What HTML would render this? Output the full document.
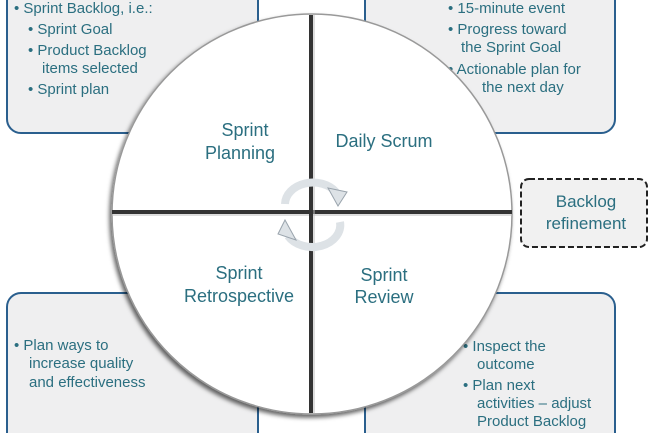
<!DOCTYPE html>
<html><head><style>
html,body{margin:0;padding:0;background:#fff;width:650px;height:433px;overflow:hidden}
svg{display:block}
text{font-family:"Liberation Sans",sans-serif;fill:#2b6f80}
</style></head><body>
<svg width="650" height="433" viewBox="0 0 650 433">
<defs>
<filter id="sh" x="-10%" y="-10%" width="120%" height="120%"><feDropShadow dx="-2" dy="3" stdDeviation="2" flood-color="#000" flood-opacity="0.6"/></filter>
</defs>
<g fill="#efeff0" stroke="#2a5f8e" stroke-width="2">
<rect x="7" y="-20" width="251" height="153" rx="14"/>
<rect x="365" y="-20" width="250" height="153" rx="14"/>
<rect x="7" y="293" width="251" height="160" rx="14"/>
<rect x="365" y="293" width="250" height="160" rx="14"/>
</g>
<g font-size="15">
<text x="14" y="13">• Sprint Backlog, i.e.:</text>
<text x="28" y="34">• Sprint Goal</text>
<text x="28" y="55">• Product Backlog</text>
<text x="42" y="73">items selected</text>
<text x="28" y="94">• Sprint plan</text>
<text x="448" y="13">• 15-minute event</text>
<text x="448" y="34">• Progress toward</text>
<text x="461" y="52">the Sprint Goal</text>
<text x="448" y="74">• Actionable plan for</text>
<text x="482" y="92">the next day</text>
<text x="14" y="350">• Plan ways to</text>
<text x="29" y="368">increase quality</text>
<text x="29" y="387">and effectiveness</text>
<text x="463" y="351">• Inspect the</text>
<text x="477" y="369">outcome</text>
<text x="463" y="390">• Plan next</text>
<text x="477" y="408">activities – adjust</text>
<text x="477" y="426">Product Backlog</text>
</g>
<circle cx="312" cy="214" r="200" fill="#fff" stroke="#999" stroke-width="1.5" filter="url(#sh)"/>
<line x1="112" y1="212" x2="512" y2="212" stroke="#333" stroke-width="4"/>
<line x1="112" y1="215" x2="512" y2="215" stroke="#bbb" stroke-width="1"/>
<line x1="311" y1="15" x2="311" y2="413" stroke="#333" stroke-width="4"/>
<line x1="314" y1="15" x2="314" y2="413" stroke="#bbb" stroke-width="1"/>
<g fill="none" stroke="#dde2e6" stroke-width="8">
<path d="M285 204 A28 22 0 0 1 336 192"/>
<path d="M340 222 A28 22 0 0 1 288 236"/>
</g>
<polygon points="328,188 347,192 338,206" fill="#dde2e6" stroke="#9aa4ad" stroke-width="1"/>
<polygon points="296,240 278,234 285,220" fill="#dde2e6" stroke="#9aa4ad" stroke-width="1"/>
<g font-size="18" text-anchor="middle">
<text x="245" y="136">Sprint</text>
<text x="240" y="159">Planning</text>
<text x="384" y="147">Daily Scrum</text>
<text x="239" y="279">Sprint</text>
<text x="239" y="302">Retrospective</text>
<text x="384" y="281">Sprint</text>
<text x="384" y="303">Review</text>
</g>
<rect x="521" y="179" width="126" height="68" rx="8" fill="#f1f1f1" stroke="#222" stroke-width="2" stroke-dasharray="6,3"/>
<g font-size="17" text-anchor="middle">
<text x="586" y="207">Backlog</text>
<text x="586" y="229">refinement</text>
</g>
</svg>
</body></html>
